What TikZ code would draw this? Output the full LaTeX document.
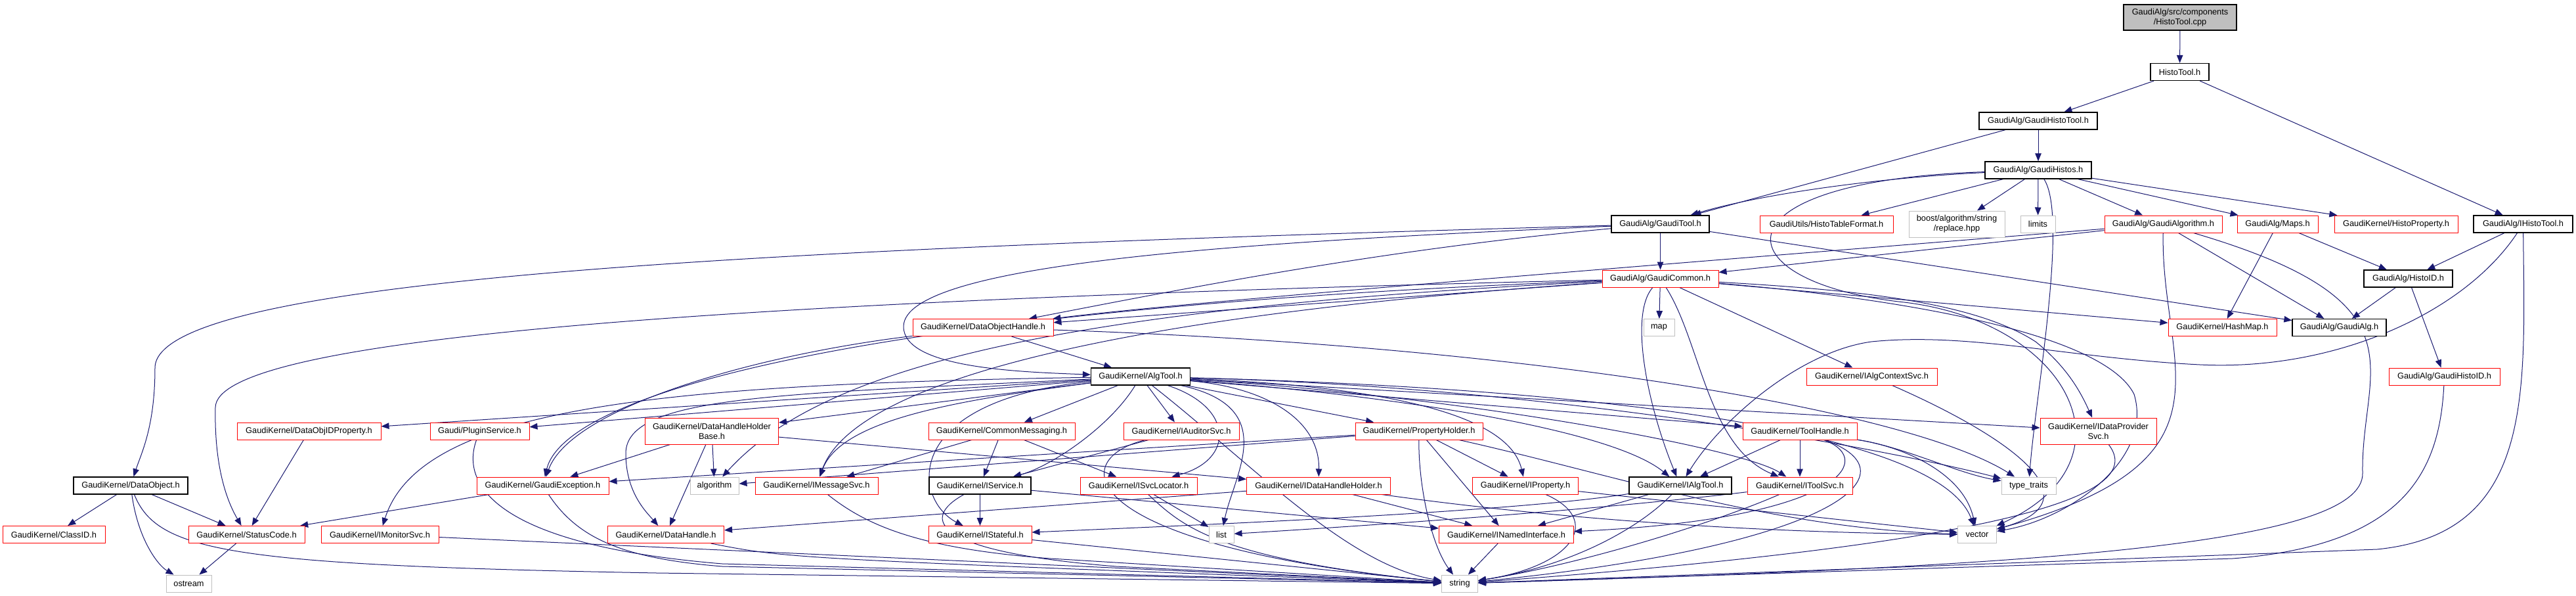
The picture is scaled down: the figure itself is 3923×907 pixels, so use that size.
\documentclass[tikz,border=0pt]{standalone}
\usepackage{fontspec}
\setmainfont{Liberation Sans}
\usetikzlibrary{arrows.meta,backgrounds}
\definecolor{navy}{HTML}{191970}
\definecolor{dred}{HTML}{FF0000}
\definecolor{lgray}{HTML}{BFBFBF}
\newcommand\nodefont{\fontsize{12.8}{15}\selectfont}
\tikzset{
  box/.style={rectangle, line width=1pt, inner sep=0pt, align=center, font=\nodefont, text=black, fill=white},
  rbox/.style={box, draw=dred},
  kbox/.style={box, draw=black, line width=1.3pt},
  gbox/.style={box, draw=lgray},
  e/.style={draw=navy, line width=1pt, -{Triangle[length=12pt,width=9.5pt]}},
}
\newcommand\nd[6]{\node[#1, minimum width=#4pt, minimum height=#5pt] (#2) at (#3) {#6};}
\begin{document}
\begin{tikzpicture}[x=1pt,y=-1pt]
\useasboundingbox (0,0) rectangle (3923,907);
% ---------- nodes ----------
\nd{kbox,fill=lgray}{cpp}{3320,26.5}{172}{39}{GaudiAlg/src/components\\/HistoTool.cpp}
\nd{kbox}{htool}{3319.5,109.5}{89}{26}{HistoTool.h}
\nd{kbox}{ghtool}{3104,184}{180}{26}{GaudiAlg/GaudiHistoTool.h}
\nd{kbox}{ghistos}{3104,259}{162}{26}{GaudiAlg/GaudiHistos.h}
\nd{kbox}{gtool}{2528.5,341}{149}{26}{GaudiAlg/GaudiTool.h}
\nd{rbox}{htf}{2781.5,341}{203}{26}{GaudiUtils/HistoTableFormat.h}
\nd{gbox}{boost}{2980,341}{146}{40}{boost/algorithm/string\\/replace.hpp}
\nd{gbox}{limits}{3103.5,341}{53}{26}{limits}
\nd{rbox}{galgo}{3294.5,341}{179}{26}{GaudiAlg/GaudiAlgorithm.h}
\nd{rbox}{maps}{3468.5,341}{123}{26}{GaudiAlg/Maps.h}
\nd{rbox}{hprop}{3649,341}{188}{26}{GaudiKernel/HistoProperty.h}
\nd{kbox}{ihtool}{3842.5,341}{151}{26}{GaudiAlg/IHistoTool.h}
\nd{rbox}{gcommon}{2528.5,424}{177}{26}{GaudiAlg/GaudiCommon.h}
\nd{kbox}{histoid}{3667.5,424}{135}{26}{GaudiAlg/HistoID.h}
\nd{rbox}{doh}{1497,498.5}{214}{26}{GaudiKernel/DataObjectHandle.h}
\nd{gbox}{map}{2526.5,498.5}{47}{26}{map}
\nd{rbox}{hashmap}{3384.5,498.5}{165}{26}{GaudiKernel/HashMap.h}
\nd{kbox}{galg}{3562.5,498.5}{143}{26}{GaudiAlg/GaudiAlg.h}
\nd{kbox}{algtool}{1737,573}{151}{26}{GaudiKernel/AlgTool.h}
\nd{rbox}{iacs}{2850.5,573}{199}{26}{GaudiKernel/IAlgContextSvc.h}
\nd{rbox}{ghid}{3722.5,573}{169}{26}{GaudiAlg/GaudiHistoID.h}
\nd{rbox}{doidp}{470.5,656}{219}{26}{GaudiKernel/DataObjIDProperty.h}
\nd{rbox}{plugin}{730.5,656}{151}{26}{Gaudi/PluginService.h}
\nd{rbox}{dhhb}{1084,656}{203}{40}{GaudiKernel/DataHandleHolder\\Base.h}
\nd{rbox}{cmsg}{1525.5,656}{223}{26}{GaudiKernel/CommonMessaging.h}
\nd{rbox}{iaud}{1799,656}{176}{26}{GaudiKernel/IAuditorSvc.h}
\nd{rbox}{pholder}{2161,656}{194}{26}{GaudiKernel/PropertyHolder.h}
\nd{rbox}{thandle}{2741,656}{174}{26}{GaudiKernel/ToolHandle.h}
\nd{rbox}{idps}{3195.5,656}{177}{40}{GaudiKernel/IDataProvider\\Svc.h}
\nd{kbox}{dobj}{199,739}{174}{26}{GaudiKernel/DataObject.h}
\nd{rbox}{gexc}{826.5,739}{201}{26}{GaudiKernel/GaudiException.h}
\nd{gbox}{algo}{1088,739}{74}{26}{algorithm}
\nd{rbox}{imsg}{1243.5,739}{187}{26}{GaudiKernel/IMessageSvc.h}
\nd{kbox}{iserv}{1492.5,739}{155}{26}{GaudiKernel/IService.h}
\nd{rbox}{isvcl}{1734,739}{178}{26}{GaudiKernel/ISvcLocator.h}
\nd{rbox}{idhh}{2008,739}{219}{26}{GaudiKernel/IDataHandleHolder.h}
\nd{rbox}{iprop}{2323,739}{161}{26}{GaudiKernel/IProperty.h}
\nd{kbox}{ialgtool}{2559,739}{156}{26}{GaudiKernel/IAlgTool.h}
\nd{rbox}{itoolsvc}{2741,739}{160}{26}{GaudiKernel/IToolSvc.h}
\nd{gbox}{ttraits}{3089.5,739}{83}{26}{type\_traits}
\nd{rbox}{classid}{82,813.5}{156}{26}{GaudiKernel/ClassID.h}
\nd{rbox}{scode}{375.5,813.5}{177}{26}{GaudiKernel/StatusCode.h}
\nd{rbox}{imon}{578.5,813.5}{179}{26}{GaudiKernel/IMonitorSvc.h}
\nd{rbox}{dhandle}{1014,813.5}{177}{26}{GaudiKernel/DataHandle.h}
\nd{rbox}{istate}{1492.5,813.5}{157}{26}{GaudiKernel/IStateful.h}
\nd{gbox}{list}{1860,813.5}{38}{26}{list}
\nd{rbox}{inamed}{2294,813.5}{205}{26}{GaudiKernel/INamedInterface.h}
\nd{gbox}{vector}{3011,813.5}{59}{26}{vector}
\nd{gbox}{ostream}{287.5,888}{69}{26}{ostream}
\nd{gbox}{string}{2223,888}{55}{26}{string}
% ---------- edges ----------
\begin{scope}[on background layer]
\draw[e] (cpp) -- (htool);
\draw[e] (htool) -- (ghtool);
\draw[e] (htool) -- (ihtool);
\draw[e] (ghtool) -- (ghistos);
\draw[e] (ghtool) -- (gtool);
\draw[e] (ghistos) .. controls (2900,268) and (2700,290) .. (gtool);
\draw[e] (ghistos) -- (htf);
\draw[e] (ghistos) -- (boost);
\draw[e] (ghistos) -- (limits);
\draw[e] (ghistos) -- (galgo);
\draw[e] (ghistos) -- (maps);
\draw[e] (ghistos) -- (hprop);
\draw[e] (ghistos) .. controls (3150,330) and (3100,600) .. (ttraits);
\draw[e] (ghistos) .. controls (2600,275) and (2620,430) .. (2900,460) .. controls (3150,490) and (3260,700) .. (vector);
\draw[e] (ihtool) -- (histoid);
\draw[e] (ihtool) .. controls (3750,480) and (3550,565) .. (3350,555) .. controls (3150,545) and (3000,505) .. (2850,520) .. controls (2740,535) and (2620,640) .. (ialgtool);
\draw[e] (ihtool) .. controls (3845,600) and (3860,812) .. (3620,836) -- (string);
\draw[e] (maps) -- (hashmap);
\draw[e] (maps) -- (histoid);
\draw[e] (histoid) -- (galg);
\draw[e] (histoid) -- (ghid);
\draw[e] (ghid) .. controls (3715,720) and (3660,830) .. (3400,850) -- (string);
\draw[e] (galgo) -- (galg);
\draw[e] (galgo) -- (gcommon);
\draw[e] (galgo) .. controls (2500,405) and (1800,460) .. (doh);
\draw[e] (galgo) .. controls (3290,560) and (3420,700) .. (vector);
\draw[e] (galgo) .. controls (3700,460) and (3595,560) .. (3598,720) .. controls (3600,830) and (3100,862) .. (string);
\draw[e] (gtool) -- (gcommon);
\draw[e] (gtool) -- (galg);
\draw[e] (gtool) .. controls (1200,378) and (236,420) .. (236,560) .. controls (236,650) and (215,690) .. (dobj);
\draw[e] (gtool) .. controls (1900,368) and (1376,400) .. (1376,497) .. controls (1376,560) and (1550,566) .. (algtool);
\draw[e] (gtool) .. controls (2100,380) and (1800,440) .. (doh);
\draw[e] (gcommon) -- (doh);
\draw[e] (gcommon) .. controls (1000,460) and (330,520) .. (328,620) .. controls (326,720) and (350,770) .. (scode);
\draw[e] (gcommon) .. controls (1300,470) and (860,600) .. (gexc);
\draw[e] (gcommon) .. controls (1700,480) and (1300,580) .. (imsg);
\draw[e] (gcommon) .. controls (1600,470) and (1250,560) .. (algo);
\draw[e] (gcommon) -- (map);
\draw[e] (gcommon) .. controls (2480,480) and (2510,620) .. (ialgtool);
\draw[e] (gcommon) .. controls (2590,520) and (2600,680) .. (itoolsvc);
\draw[e] (gcommon) -- (iacs);
\draw[e] (gcommon) -- (hashmap);
\draw[e] (gcommon) .. controls (2800,440) and (3000,455) .. (3100,520) .. controls (3150,560) and (3170,600) .. (idps);
\draw[e] (gcommon) .. controls (2850,450) and (3200,500) .. (3250,600) .. controls (3280,700) and (3150,790) .. (vector);
\draw[e] (doh) -- (algtool);
\draw[e] (doh) .. controls (2300,525) and (2900,620) .. (ttraits);
\draw[e] (doh) .. controls (1150,540) and (870,620) .. (gexc);
\draw[e] (algtool) -- (doidp);
\draw[e] (algtool) -- (plugin);
\draw[e] (algtool) -- (dhhb);
\draw[e] (algtool) -- (cmsg);
\draw[e] (algtool) -- (iaud);
\draw[e] (algtool) -- (pholder);
\draw[e] (algtool) -- (thandle);
\draw[e] (algtool) -- (idps);
\draw[e] (algtool) .. controls (1000,585) and (640,620) .. (imon);
\draw[e] (algtool) .. controls (1450,610) and (1280,640) .. (imsg);
\draw[e] (algtool) .. controls (1690,650) and (1600,710) .. (iserv);
\draw[e] (algtool) .. controls (1880,620) and (1880,700) .. (isvcl);
\draw[e] (algtool) .. controls (1370,610) and (1390,760) .. (istate);
\draw[e] (algtool) .. controls (1950,620) and (1880,720) .. (list);
\draw[e] (algtool) .. controls (1930,590) and (2010,640) .. (idhh);
\draw[e] (algtool) .. controls (2150,590) and (2300,640) .. (iprop);
\draw[e] (algtool) .. controls (2100,600) and (2450,650) .. (ialgtool);
\draw[e] (algtool) .. controls (2200,600) and (2650,680) .. (itoolsvc);
\draw[e] (algtool) .. controls (2400,590) and (2900,690) .. (ttraits);
\draw[e] (algtool) .. controls (2400,590) and (2950,650) .. (vector);
\draw[e] (algtool) .. controls (1200,600) and (953,600) .. (953,690) .. controls (953,750) and (985,780) .. (dhandle);
\draw[e] (algtool) .. controls (1900,700) and (2050,860) .. (string);
\draw[e] (doidp) -- (scode);
\draw[e] (plugin) .. controls (700,740) and (760,830) .. (1100,858) -- (string);
\draw[e] (dhhb) -- (gexc);
\draw[e] (dhhb) -- (algo);
\draw[e] (dhhb) -- (dhandle);
\draw[e] (dhhb) -- (idhh);
\draw[e] (cmsg) -- (iserv);
\draw[e] (cmsg) -- (isvcl);
\draw[e] (cmsg) -- (imsg);
\draw[e] (iaud) -- (iserv);
\draw[e] (iaud) .. controls (1620,700) and (1640,830) .. (string);
\draw[e] (pholder) -- (algo);
\draw[e] (pholder) -- (gexc);
\draw[e] (pholder) .. controls (2160,740) and (2180,830) .. (string);
\draw[e] (pholder) -- (inamed);
\draw[e] (pholder) -- (iprop);
\draw[e] (pholder) .. controls (2450,720) and (2700,805) .. (vector);
\draw[e] (thandle) -- (ialgtool);
\draw[e] (thandle) -- (itoolsvc);
\draw[e] (thandle) .. controls (2860,700) and (2800,790) .. (inamed);
\draw[e] (thandle) .. controls (2920,720) and (2800,830) .. (string);
\draw[e] (thandle) .. controls (2900,680) and (2990,720) .. (vector);
\draw[e] (thandle) .. controls (2900,680) and (2980,720) .. (ttraits);
\draw[e] (idps) .. controls (3260,740) and (3150,820) .. (string);
\draw[e] (iacs) .. controls (3050,660) and (3200,760) .. (vector);
\draw[e] (imsg) .. controls (1320,800) and (1400,835) .. (1600,850) -- (string);
\draw[e] (iserv) -- (istate);
\draw[e] (iserv) -- (inamed);
\draw[e] (iserv) .. controls (1400,790) and (1420,840) .. (1700,862) -- (string);
\draw[e] (isvcl) -- (list);
\draw[e] (isvcl) .. controls (1800,800) and (1850,850) .. (string);
\draw[e] (idhh) -- (dhandle);
\draw[e] (idhh) -- (inamed);
\draw[e] (idhh) .. controls (2300,780) and (2600,810) .. (vector);
\draw[e] (iprop) .. controls (2440,790) and (2400,860) .. (string);
\draw[e] (iprop) -- (vector);
\draw[e] (ialgtool) -- (inamed);
\draw[e] (ialgtool) .. controls (2500,800) and (2400,860) .. (string);
\draw[e] (ialgtool) .. controls (2300,780) and (1800,800) .. (istate);
\draw[e] (itoolsvc) .. controls (2400,780) and (2000,805) .. (list);
\draw[e] (itoolsvc) .. controls (2600,800) and (2400,860) .. (string);
\draw[e] (inamed) -- (string);
\draw[e] (istate) -- (string);
\draw[e] (imon) -- (string);
\draw[e] (dhandle) .. controls (1200,850) .. (string);
\draw[e] (gexc) -- (scode);
\draw[e] (gexc) .. controls (880,820) and (950,850) .. (1100,862) -- (string);
\draw[e] (dobj) -- (classid);
\draw[e] (dobj) -- (scode);
\draw[e] (dobj) .. controls (210,820) and (240,860) .. (ostream);
\draw[e] (dobj) .. controls (240,840) and (350,860) .. (1000,872) -- (string);
\draw[e] (scode) -- (ostream);
\end{scope}
\end{tikzpicture}
\end{document}
